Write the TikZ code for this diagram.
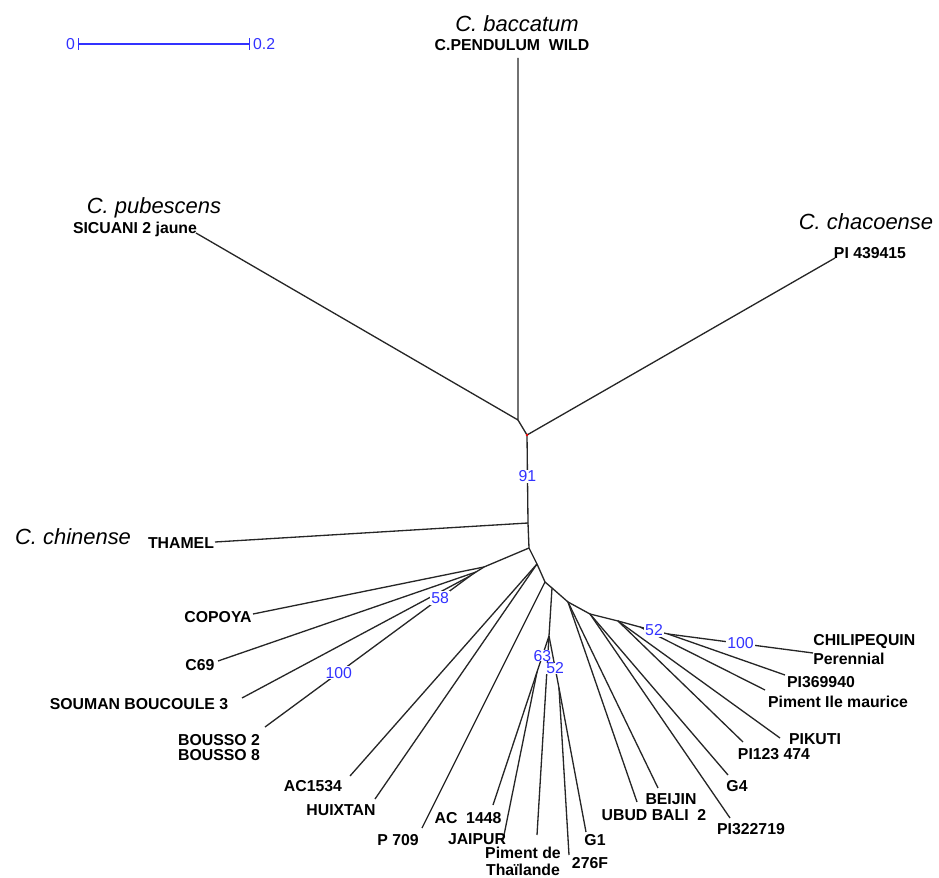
\documentclass[tikz,border=0pt]{standalone}
\usepackage{fontspec}
\setmainfont{Liberation Sans}
\usetikzlibrary{positioning}
\definecolor{bootblue}{RGB}{50,50,255}

\begin{document}
\begin{tikzpicture}[x=0.02cm,y=-0.02cm,
    leaf/.style = {font=\bfseries\fontsize{9}{10}\selectfont,inner sep=0pt},
    species/.style = {font=\itshape\fontsize{12.5}{14}\selectfont,inner sep=0pt},
    boot/.style = {font=\fontsize{9}{10}\selectfont,text=bootblue,fill=white,inner sep=0.6pt},
    branch/.style = {line width=0.75pt,black!85}]
  \useasboundingbox (0,0) rectangle (939,878);

  % scale bar
  \coordinate (sb0) at (78,44); \coordinate (sb2) at (250,44);
  \draw[bootblue,line width=0.7pt,|-|] (sb0) -- (sb2);
  \node[boot,fill=none,left=1pt of sb0] (sbl0) {0};
  \node[boot,fill=none,right=1pt of sb2] (sbl2) {0.2};

  % inner nodes of the tree
  \coordinate (p1) at (518,420); \coordinate (p2) at (527,435);
  \coordinate (p3) at (528,523); \coordinate (p4) at (529,548);
  \coordinate (l1) at (484,567); \coordinate (l2) at (476,572);
  \coordinate (l3) at (470,576); \coordinate (p5) at (537,564);
  \coordinate (p6) at (545,582); \coordinate (p7) at (552,588);
  \coordinate (q) at (549,636); \coordinate (q63) at (537,672);
  \coordinate (q52) at (559,688); \coordinate (p8) at (568,602);
  \coordinate (p9) at (590,614); \coordinate (p10) at (618,621);
  \coordinate (p11) at (640,627); \coordinate (p12) at (668,634);

  % tips
  \coordinate (pend) at (518,58); \coordinate (sicu) at (196,233);
  \coordinate (pi43) at (835,258); \coordinate (thamel) at (215,542);
  \coordinate (copoya) at (253,614); \coordinate (c69) at (218,661);
  \coordinate (souman) at (242,698); \coordinate (bousso) at (265,727);
  \coordinate (ac1534) at (350,776); \coordinate (huix) at (375,799);
  \coordinate (p709) at (422,828); \coordinate (ac1448) at (493,805);
  \coordinate (jaipur) at (503,840); \coordinate (thai) at (537,835);
  \coordinate (f276) at (569,855); \coordinate (g1) at (586,832);
  \coordinate (ubud) at (637,802); \coordinate (beijin) at (658,788);
  \coordinate (pi322) at (730,818); \coordinate (g4) at (728,775);
  \coordinate (pi123) at (743,742); \coordinate (pikuti) at (780,738);
  \coordinate (ilem) at (765,690); \coordinate (pi369) at (785,675);
  \coordinate (chili) at (813,653);

  % branches
  \draw[branch] (pend) -- (p1) -- (sicu);
  \draw[branch] (p1) -- (p2) -- (pi43);
  \draw[branch] (p2) -- node[boot,pos=0.47] (b91) {91} (p3);
  \draw[branch] (p3) -- (thamel); \draw[branch] (p3) -- (p4);
  \draw[branch] (p4) -- (l1) -- (copoya); \draw[branch] (l1) -- (l2) -- (c69);
  \draw[branch] (l2) -- (l3) -- (souman);
  \draw[branch] (l3) -- node[boot,pos=0.146] (b58) {58}
    node[boot,pos=0.64] (b100a) {100} (bousso);
  \draw[branch] (p4) -- (p5) -- (ac1534); \draw[branch] (p5) -- (huix);
  \draw[branch] (p5) -- (p6) -- (p709); \draw[branch] (p6) -- (p7) -- (q);
  \draw[branch] (q) -- (thai);
  \draw[branch] (q63) -- (ac1448); \draw[branch] (q63) -- (jaipur);
  \draw[branch] (q52) -- (f276); \draw[branch] (q52) -- (g1);
  \draw[branch] (q) -- node[boot,pos=0.55,inner sep=0pt] (b63) {63} (q63);
  \draw[branch] (q) -- node[boot,pos=0.62,inner sep=0pt] (b52a) {52} (q52);
  \draw[branch] (p7) -- (p8) -- (ubud); \draw[branch] (p8) -- (beijin);
  \draw[branch] (p8) -- (p9) -- (pi322); \draw[branch] (p9) -- (g4);
  \draw[branch] (p9) -- (p10) -- (pi123); \draw[branch] (p10) -- (pikuti);
  \draw[branch] (p10) -- (p11) -- (ilem);
  \draw[branch] (p11) -- node[boot,pos=0.5] (b52b) {52} (p12);
  \draw[branch] (p12) -- (pi369);
  \draw[branch] (p12) -- node[boot,pos=0.5] (b100b) {100} (chili);
  \fill[red] (p2) circle (0.8pt);

  % species and tip labels
  \node[species] (bacc) at (517,24) {C. baccatum};
  \node[leaf] (pendl) at (512,45) {C.PENDULUM\ \ WILD};
  \node[species] (pub) at (154,208) {C. pubescens};
  \node[leaf] (sicul) at (135,229) {SICUANI 2 jaune};
  \node[species] (chaco) at (866,222) {C. chacoense};
  \node[leaf] (pi43l) at (870,253) {PI 439415};
  \node[species] (chin) at (73,537) {C. chinense};
  \node[leaf] (thamell) at (181,543) {THAMEL};
  \node[leaf] (copoyal) at (218,617) {COPOYA};
  \node[leaf] (c69l) at (200,665) {C69};
  \node[leaf] (soumanl) at (139,704) {SOUMAN BOUCOULE 3};
  \node[leaf] (bousso2) at (219,740) {BOUSSO 2};
  \node[leaf,below=1.8pt of bousso2] (bousso8) {BOUSSO 8};
  \node[leaf] (ac1534l) at (313,786) {AC1534};
  \node[leaf] (huixl) at (341,810) {HUIXTAN};
  \node[leaf] (p709l) at (398,840) {P 709};
  \node[leaf] (ac1448l) at (468,818) {AC\ \ 1448};
  \node[leaf] (jaipurl) at (477,839) {JAIPUR};
  \node[leaf] (thail) at (523,853) {Piment de};
  \node[leaf,below=2.5pt of thail] (thai2) {Thaïlande};
  \node[leaf] (f276l) at (590,863) {276F};
  \node[leaf] (g1l) at (595,840) {G1};
  \node[leaf] (ubudl) at (654,815) {UBUD BALI\ \ 2};
  \node[leaf] (beijinl) at (671,799) {BEIJIN};
  \node[leaf] (pi322l) at (751,829) {PI322719};
  \node[leaf] (g4l) at (737,786) {G4};
  \node[leaf] (pi123l) at (774,754) {PI123 474};
  \node[leaf] (pikutil) at (815,739) {PIKUTI};
  \node[leaf] (ileml) at (838,702) {Piment Ile maurice};
  \node[leaf] (pi369l) at (821,682) {PI369940};
  \node[leaf,anchor=west] (chilil) at (813,642) {CHILIPEQUIN};
  \node[leaf,below=2pt of chilil.south west,anchor=north west] (perl) {Perennial};
\end{tikzpicture}
\end{document}
